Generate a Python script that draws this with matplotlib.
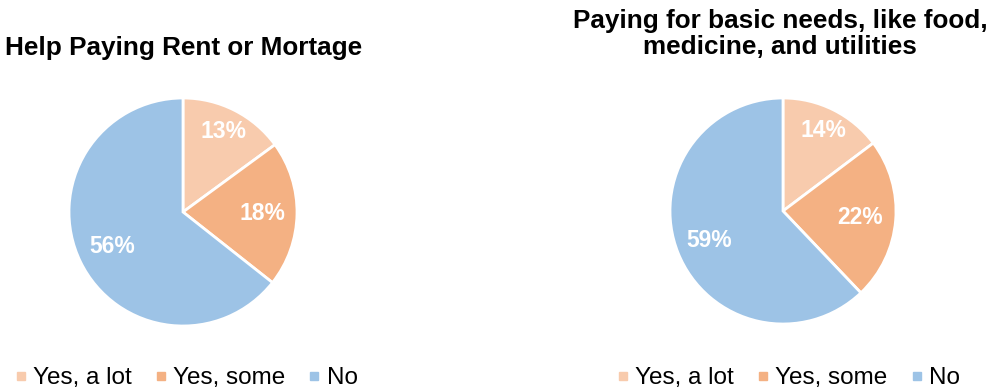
import numpy as np
import matplotlib
matplotlib.use("Agg")
import matplotlib.pyplot as plt
from matplotlib.lines import Line2D

plt.rcParams['font.family'] = ['Liberation Sans', 'DejaVu Sans']

categories = ["Yes, a lot", "Yes, some", "No"]
rent_values = [13, 18, 56]
needs_values = [14, 22, 59]
titles = ["Help Paying Rent or Mortage",
          "Paying for basic needs, like food,\nmedicine, and utilities"]

colors = ["#F8CBAD", "#F4B183", "#9DC3E6"]

W, H = 993, 390
fig = plt.figure(figsize=(W / 100, H / 100), dpi=100)

# pie centre (px), radius (px), label distance per slice
panels = [
    dict(vals=rent_values, cx=183, cy=212, r=114, dist=[0.79, 0.70, 0.69],
         tx=184, ty=48, leg_x=16),
    dict(vals=needs_values, cx=783, cy=211, r=113, dist=[0.80, 0.68, 0.70],
         tx=780, ty=34, leg_x=618),
]

for p, title in zip(panels, titles):
    r = p["r"]
    ax = fig.add_axes([(p["cx"] - r) / W, (H - p["cy"] - r) / H, 2 * r / W, 2 * r / H])
    wedges, _ = ax.pie(p["vals"], colors=colors, startangle=90, counterclock=False,
                       radius=1.0, wedgeprops=dict(edgecolor="white", linewidth=2))
    ax.set_xlim(-1, 1)
    ax.set_ylim(-1, 1)
    ax.set_aspect("equal")
    ax.axis("off")
    for w, v, d in zip(wedges, p["vals"], p["dist"]):
        ang = np.deg2rad((w.theta1 + w.theta2) / 2)
        ax.text(d * np.cos(ang), d * np.sin(ang), f"{v}%", ha="center", va="center",
                color="white", fontsize=16.5, fontweight="bold")
    fig.text(p["tx"] / W, 1 - p["ty"] / H, title, ha="center", va="center",
             fontsize=18.8, fontweight="bold", linespacing=1.12)

    handles = [Line2D([], [], marker="s", linestyle="none", markersize=6,
                      markerfacecolor=c, markeredgecolor=c) for c in colors]
    fig.legend(handles, categories, loc="center left",
               bbox_to_anchor=(p["leg_x"] / W, 1 - 378 / H), ncol=3, frameon=False,
               fontsize=17.5, handlelength=0.4, handletextpad=0.3,
               columnspacing=1.0, borderpad=0, borderaxespad=0)

fig.savefig("out.png", dpi=100, facecolor="white")
